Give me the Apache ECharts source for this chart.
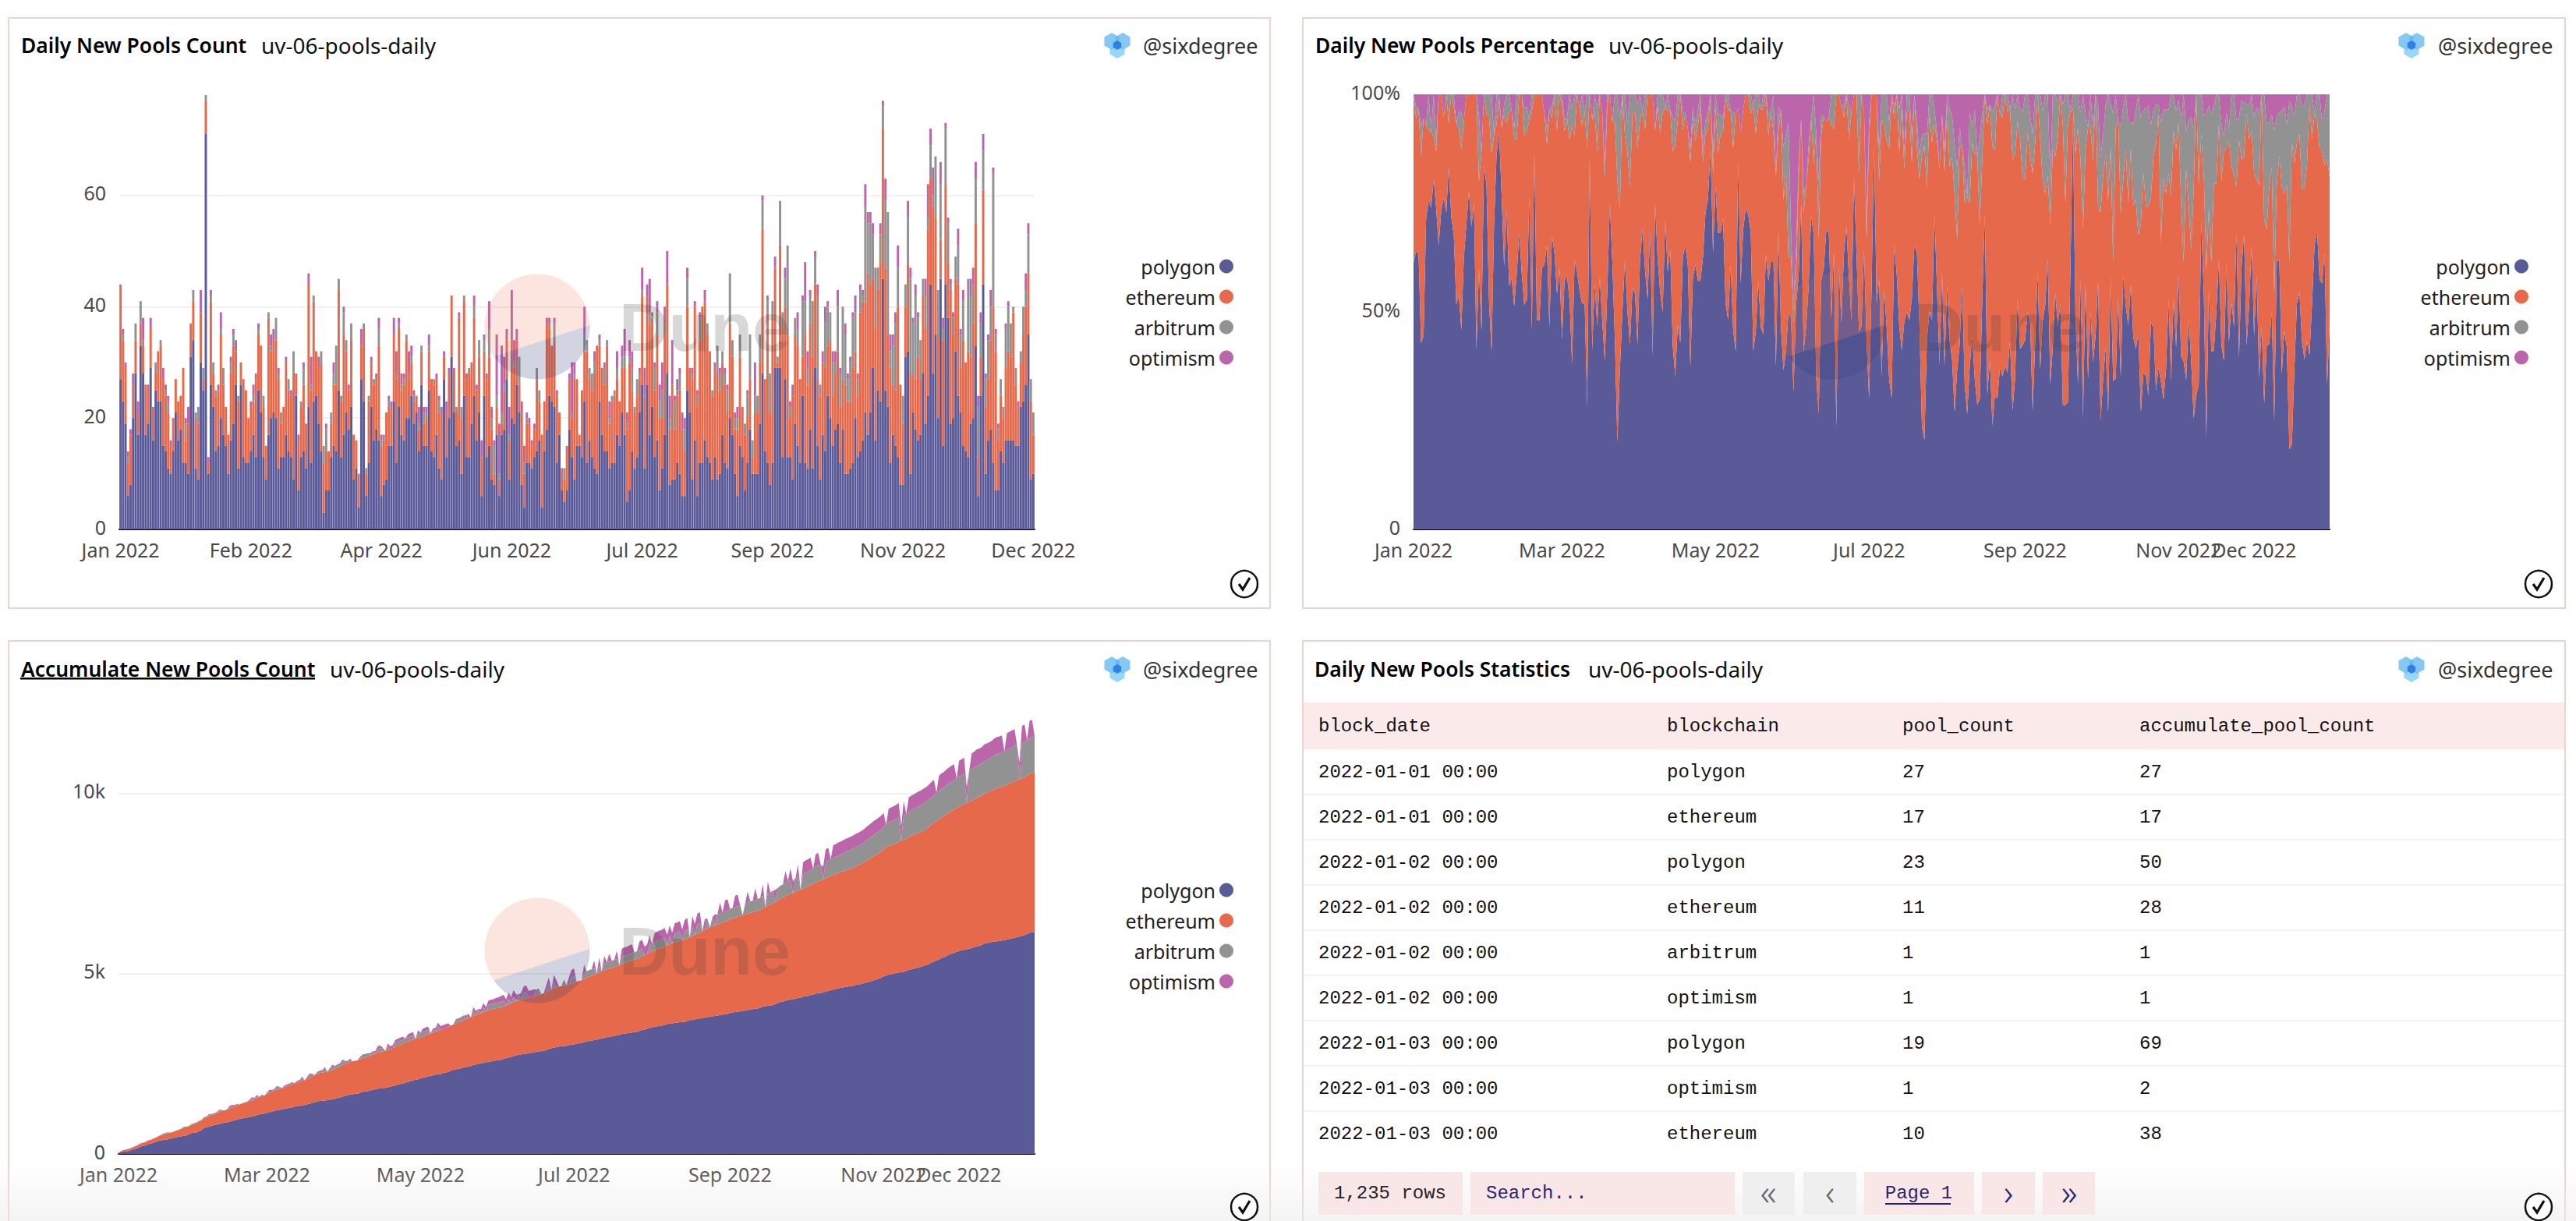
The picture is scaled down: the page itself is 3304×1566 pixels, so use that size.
<!DOCTYPE html>
<html><head><meta charset="utf-8"><style>html,body{margin:0;padding:0;background:#fff}#c{width:3304px;height:1566px}</style>
<script src="https://cdn.jsdelivr.net/npm/echarts@6/dist/echarts.min.js"></script></head>
<body><div id="c"></div>
<script>
const seriesNames=['polygon','ethereum','arbitrum','optimism'];
const seriesColors=['#5a5a99','#e5694a','#929292','#bb66ab'];
const polygon=[27,23,19,6,8,20,28,17,33,28,17,19,29,16,25,23,23,15,14,11,10,14,21,16,18,12,12,10,31,34,11,9,30,25,71,10,26,22,14,15,20,17,15,10,16,19,26,11,26,13,12,12,14,17,13,25,21,13,9,17,20,21,20,11,13,13,17,14,13,9,24,7,13,14,11,22,12,23,24,19,14,3,7,7,13,15,14,25,13,17,21,18,22,9,11,4,27,23,6,12,22,16,18,16,6,8,9,15,15,23,12,22,17,16,20,20,24,19,21,14,26,15,15,25,14,13,17,11,9,27,13,20,31,21,15,16,10,24,13,13,19,24,16,21,6,24,13,15,9,8,17,6,17,18,27,9,20,19,26,21,8,4,12,12,11,13,14,16,4,14,18,24,23,22,12,17,7,5,7,18,13,9,15,15,13,23,12,16,13,11,10,23,17,14,14,11,12,12,17,15,21,17,5,7,14,11,13,21,26,11,26,17,22,13,16,7,11,17,28,8,9,9,12,10,6,6,25,21,9,16,6,12,12,16,13,12,9,13,9,10,17,12,11,20,17,10,6,15,13,7,12,18,10,10,10,19,28,14,12,8,12,29,29,29,13,27,13,13,9,19,15,12,24,12,11,18,11,29,15,9,17,14,24,20,15,18,19,12,18,10,10,11,12,20,13,14,16,21,17,21,29,16,25,23,45,25,22,12,17,15,13,8,8,31,32,10,21,18,16,17,28,19,24,44,28,35,20,45,15,44,38,19,20,32,24,21,15,14,13,19,20,33,6,24,44,10,16,18,12,7,7,14,12,16,16,16,16,15,15,22,23,26,35,9,10];
const ethereum=[17,11,10,6,9,6,6,4,4,5,9,7,7,6,3,9,10,12,10,10,5,6,6,7,6,17,4,9,6,7,9,10,9,2,6,2,15,6,10,10,15,9,7,7,12,14,6,12,4,14,13,8,8,6,14,10,12,9,6,21,12,13,14,16,6,9,13,11,11,19,4,9,9,12,8,22,13,18,8,10,16,9,7,7,6,11,12,18,10,18,11,7,12,8,5,6,6,13,4,11,8,10,9,17,9,8,12,7,7,12,15,14,8,10,14,7,6,4,3,4,6,4,5,7,13,13,10,10,12,4,8,8,11,8,6,22,10,17,14,15,11,14,9,10,7,8,14,16,9,2,5,3,2,7,7,7,14,10,8,5,13,6,7,7,4,5,13,7,13,9,19,12,10,12,12,4,4,4,8,9,7,18,12,2,12,9,20,11,12,17,23,10,12,12,19,8,11,12,10,8,8,12,13,23,11,10,11,6,16,13,16,20,16,12,19,13,9,18,16,10,17,9,12,15,12,8,15,8,18,24,16,22,28,25,22,20,15,16,19,15,13,14,10,17,14,8,12,16,9,10,8,9,3,11,11,11,26,13,27,13,26,18,1,22,23,13,22,7,15,16,18,15,7,23,15,19,20,15,12,15,13,15,9,14,9,10,13,10,9,16,13,12,17,12,11,25,25,20,29,23,16,20,18,25,27,22,13,17,9,10,27,18,11,9,16,18,7,9,15,10,14,17,30,19,30,21,15,7,19,18,10,24,15,13,20,8,19,16,19,12,17,22,7,7,17,12,11,16,28,25,9,10,8,13,16,15,23,11,7,8,12,14,11,14,7];
const arbitrum=[0,1,0,1,0,0,3,0,4,1,0,0,0,0,2,0,1,0,1,2,0,0,0,0,0,0,3,0,0,2,1,3,0,2,1,0,1,2,1,0,1,3,0,0,2,2,0,1,0,0,0,0,0,1,0,1,0,2,0,1,1,0,4,1,2,0,0,2,0,4,0,0,1,3,0,0,1,1,0,0,2,3,4,0,2,2,7,2,1,4,2,0,3,0,0,0,0,1,1,1,0,1,0,3,1,1,0,1,0,0,1,1,1,1,1,1,1,1,0,1,1,2,1,1,0,1,0,2,0,0,0,0,0,0,1,0,2,1,0,1,0,2,0,3,0,2,0,5,2,5,2,1,2,1,0,1,0,1,0,5,0,2,1,0,0,0,2,2,0,0,0,1,0,3,0,0,0,2,0,0,1,1,0,0,0,3,2,2,3,2,0,1,0,3,1,1,1,1,2,0,2,2,1,1,4,1,3,1,1,0,0,2,1,4,4,3,5,2,0,2,0,5,1,3,0,4,5,0,1,0,2,4,0,0,2,0,1,0,5,3,2,2,4,9,3,2,2,4,0,2,4,8,3,3,3,5,5,0,2,7,3,0,1,8,3,5,16,2,0,3,3,0,10,6,3,5,10,5,15,2,0,8,7,5,6,2,8,6,13,9,4,7,9,7,3,4,1,17,9,11,8,11,4,5,4,12,22,3,7,12,7,0,5,4,8,17,9,15,7,7,3,6,2,6,2,11,8,10,2,10,7,1,3,4,7,6,7,0,13,11,7,8,9,6,7,5,7,6,24,3,2,3,2,7,8,6,1,3,0,2,5,3,7,4,4];
const optimism=[0,1,1,1,1,2,0,2,0,4,0,0,2,0,0,0,0,2,1,1,1,0,0,0,0,0,1,3,0,0,0,0,4,0,0,1,1,0,0,1,3,0,0,0,1,1,2,0,0,0,0,0,1,2,1,1,0,0,0,0,2,2,0,1,0,0,1,0,1,0,0,1,0,1,0,2,5,0,0,2,0,0,1,0,0,2,0,0,0,1,0,1,0,0,0,0,3,0,0,0,1,0,1,2,1,0,0,1,1,3,4,1,2,1,0,4,2,1,0,3,0,1,1,2,0,0,1,1,1,1,2,1,0,0,0,1,0,0,1,0,0,2,1,0,3,1,1,5,2,1,11,9,12,5,2,5,9,4,2,0,2,3,1,1,1,1,0,0,0,0,1,1,0,1,1,0,0,0,0,1,9,2,0,0,0,5,0,0,0,2,0,1,0,1,0,3,0,0,3,0,2,5,2,3,3,0,0,1,4,5,2,6,0,1,2,3,5,3,6,4,8,1,2,1,3,2,2,0,1,1,1,1,0,2,0,0,0,1,0,1,0,1,1,0,0,1,2,0,0,0,1,0,0,6,0,0,1,0,1,0,0,2,0,0,0,2,0,1,2,0,3,0,1,7,3,1,0,1,2,0,2,3,1,0,2,2,3,1,0,2,1,1,1,3,1,1,1,4,2,2,2,0,0,2,1,4,0,3,2,2,4,0,0,0,3,2,1,2,1,0,0,3,6,3,5,0,0,4,2,1,1,1,1,0,3,1,2,0,0,3,3,3,2,2,3,1,1,3,1,1,1,0,0,1,1,0,0,0,1,0,0,3,2,0,0];
const lateOptimismGapDays=[283,305,313,325,333,338,352,357,361,364];
const monthTicks=['2022-01-01','2022-03-01','2022-05-01','2022-07-01','2022-09-01','2022-11-01'];
const overlappingMonthTicks=['2022-12-01'];
const monthNames=['Jan','Feb','Mar','Apr','May','Jun','Jul','Aug','Sep','Oct','Nov','Dec'];
const tableHeader=['block_date','blockchain','pool_count','accumulate_pool_count'];
const tableDates=['2022-01-01 00:00','2022-01-01 00:00','2022-01-02 00:00','2022-01-02 00:00','2022-01-02 00:00','2022-01-02 00:00','2022-01-03 00:00','2022-01-03 00:00','2022-01-03 00:00'];
const tableChains=['polygon','ethereum','polygon','ethereum','arbitrum','optimism','polygon','optimism','ethereum'];
const tablePools=[27,17,23,11,1,1,19,1,10];
const tableAccum=[27,17,50,28,1,1,69,2,38];

const days=[];for(let i=0;i<365;i++){days.push(new Date(Date.UTC(2022,0,1+i)).toISOString().slice(0,10));}
const daily=[polygon,ethereum,arbitrum,optimism];
const totals=days.map((_,i)=>daily.reduce((s,a)=>s+a[i],0));
const pct=daily.map(a=>a.map((v,i)=>v/totals[i]*100));
const sums=[0,0,0,0];
const cum=daily.map(()=>[]);
days.forEach((_,i)=>{daily.forEach((a,k)=>{sums[k]+=a[i];
  let absent=a[i]===0;
  if(k===3&&i>=280)absent=lateOptimismGapDays.includes(i);
  cum[k].push(absent?0:sums[k]);});});

const monthLabel=v=>{const p=v.split('-');return monthNames[+p[1]-1]+' '+p[0];};
const FONT='"Noto Sans"',MONO='"Liberation Mono"';
const axisFont={fontFamily:FONT,fontSize:25,color:'#4a4a4a'};
const g=[];
function rect(x,y,w,h,style,z){g.push({type:'rect',shape:{x,y,width:w,height:h},style,z:z||1,silent:true});}
function text(x,y,t,o){g.push({type:'text',x,y,z:o.z||10,silent:true,style:Object.assign({text:t,fontFamily:FONT,fontSize:26,fill:'#111',textVerticalAlign:'middle',textAlign:'left'},o)});}
function poly(points,fill,z){g.push({type:'polygon',shape:{points},style:{fill},z:z||60,silent:true});}
function panel(x,y,w,h){rect(x,y,w,h,{fill:'none',stroke:'#ecd3cb',lineWidth:2},0);}
function arc(cx,cy,r,a0,a1){const p=[];for(let i=0;i<=60;i++){const a=(a0+(a1-a0)*i/60)*Math.PI/180;p.push([cx+r*Math.cos(a),cy+r*Math.sin(a)]);}return p;}
function watermark(px,cy){const cx=px+680;
  poly(arc(cx,cy,67.5,-1.7,-214.4),'rgba(232,110,70,0.18)');
  poly(arc(cx,cy,67.5,-1.7,145.6),'rgba(50,60,120,0.22)');
  text(px+785,cy,'Dune',{fontFamily:'"Liberation Sans"',fontWeight:'bold',fontSize:88,fill:'rgba(60,60,60,0.2)',z:60});}
function hex(cx,cy,r,fill){const p=[];for(let i=0;i<6;i++){const a=(60*i+30)*Math.PI/180;p.push([cx+r*Math.cos(a),cy+r*Math.sin(a)]);}poly(p,fill,11);}
function avatar(cx,cy,tx){
  hex(cx-7,cy-5,11,'rgba(92,182,240,0.75)');hex(cx+7,cy-5,11,'rgba(92,182,240,0.75)');hex(cx,cy+6,11,'rgba(120,200,248,0.75)');
  hex(cx,cy,6,'rgba(30,110,220,0.8)');
  text(tx,cy,'@sixdegree',{fontSize:27,fill:'#333'});}
function check(cx,cy){g.push({type:'circle',shape:{cx,cy,r:17},style:{fill:'#fff',stroke:'#111',lineWidth:2.5},z:80,silent:true});
  g.push({type:'polyline',shape:{points:[[cx-7,cy],[cx-2,cy+7],[cx+7,cy-8]]},style:{fill:'none',stroke:'#111',lineWidth:3.2},z:81,silent:true});}

panel(11,23,1618,757);panel(1671,23,1619,757);panel(11,822,1618,770);panel(1671,822,1619,770);
const titles=[[27,58,'Daily New Pools Count',335],[1687,58,'Daily New Pools Percentage',2063],[27,858,'Accumulate New Pools Count',423],[1686,858,'Daily New Pools Statistics',2037]];
titles.forEach(t=>{text(t[0],t[1],t[2],{fontWeight:600,fontSize:26.4,fill:'#000'});text(t[3],t[1],'uv-06-pools-daily',{fontSize:28,fill:'#111'});});
rect(26,869,378,2.5,{fill:'#000'},10);
avatar(1433,58,1466);avatar(3093,58,3127);avatar(1433,858,1466);avatar(3093,858,3127);
check(1596,749);check(3256,749);check(1596,1548);check(3256,1548);
watermark(9,419);watermark(1670,419);watermark(9,1219);

rect(0,1490,3304,76,{fill:new echarts.graphic.LinearGradient(0,0,0,1,[{offset:0,color:'rgba(235,235,235,0)'},{offset:1,color:'rgba(235,235,235,0.55)'}])},1);
rect(1672,901,1617,60,{fill:'#fbeaea'},2);
const cols=[1691,2138,2440,2744];
tableHeader.forEach((h,i)=>text(cols[i],931,h,{fontFamily:MONO,fontSize:24,fill:'#111'}));
tableDates.forEach((d,r)=>{const y=990+r*58;
  [d,tableChains[r],String(tablePools[r]),String(tableAccum[r])].forEach((v,i)=>text(cols[i],y,v,{fontFamily:MONO,fontSize:24,fill:'#111'}));
  if(r<8)rect(1672,y+28,1617,2,{fill:'#f3f3f3'},2);});
const pager=[[1691,185,'1,235 rows','#f9e7e7','#222',1711,'left'],[1886,339,'Search...','#f9e7e7','#2b1f73',1906,'left'],[2235,67,'«','#efefef','#666',2268,'center'],[2313,68,'‹','#efefef','#666',2347,'center'],[2391,141,'Page 1','#f9e7e7','#2b1f73',2461,'center'],[2542,68,'›','#f9e7e7','#2b1f73',2576,'center'],[2620,67,'»','#f9e7e7','#2b1f73',2654,'center']];
pager.forEach(p=>{rect(p[0],1503,p[1],55,{fill:p[3]},2);
  const big=p[2].length===1;
  text(p[5],big?1528:1530,p[2],{fontFamily:big?FONT:MONO,fontSize:big?46:24,fontWeight:big?300:400,fill:p[4],textAlign:p[6]});});
rect(2418,1543,84,2,{fill:'#2b1f73'},10);

const grids=[{left:153,top:122,width:1174,height:557},{left:1813,top:121,width:1175,height:558},{left:152,top:922,width:1175,height:558}];
const xBase=(gi,extra)=>Object.assign({type:'category',gridIndex:gi,data:days,position:'bottom',axisTick:{show:false},axisLine:{lineStyle:{color:'#000',width:2}},splitLine:{show:false}},extra);
const yBase=(gi,extra,fmt,showMax)=>Object.assign({type:'value',gridIndex:gi,min:0,axisLine:{show:false},axisTick:{show:false},splitLine:{lineStyle:{color:'#f1f1f1',width:2},showMaxLine:false},axisLabel:Object.assign({},axisFont,{margin:17,verticalAlign:'bottom',lineHeight:7,showMaxLabel:!!showMax,formatter:fmt})},extra);
const timeLabel=ticks=>({...axisFont,margin:13,interval:(i,v)=>ticks.includes(v),formatter:monthLabel,hideOverlap:false});
const series=[];
seriesNames.forEach((n,k)=>{series.push({name:n,type:'bar',xAxisIndex:0,yAxisIndex:0,stack:'daily',barWidth:'91%',data:daily[k],itemStyle:{color:seriesColors[k]},large:false,progressive:0,silent:true});});
[[1,pct],[2,cum]].forEach(([ax,src])=>{seriesNames.forEach((n,k)=>{series.push({name:n,type:'line',xAxisIndex:ax,yAxisIndex:ax,stack:'s'+ax,data:src[k],showSymbol:false,symbol:'none',lineStyle:{width:0},areaStyle:{color:seriesColors[k],opacity:1},itemStyle:{color:seriesColors[k]},silent:true,sampling:false});});});
const legend=(right,top)=>({data:seriesNames,orient:'vertical',align:'right',right,top,icon:'circle',itemWidth:18,itemHeight:18,itemGap:14,selectedMode:false,textStyle:{fontFamily:FONT,fontSize:25,color:'#222'}});
const chart=echarts.init(document.getElementById('c'),null,{renderer:'svg',width:3304,height:1566});
chart.setOption({animation:false,backgroundColor:'#fff',grid:grids,
 xAxis:[xBase(0,{axisLabel:{...axisFont,margin:13,interval:51,formatter:monthLabel}}),
  xBase(1,{boundaryGap:false,axisLabel:timeLabel(monthTicks)}),
  xBase(2,{boundaryGap:false,axisLabel:timeLabel(monthTicks)}),
  xBase(1,{boundaryGap:false,axisLine:{show:false},axisLabel:timeLabel(overlappingMonthTicks)}),
  xBase(2,{boundaryGap:false,axisLine:{show:false},axisLabel:timeLabel(overlappingMonthTicks)})],
 yAxis:[yBase(0,{max:78,interval:20},v=>String(v)),yBase(1,{max:100,interval:50},v=>v===0?'0':v+'%',true),yBase(2,{max:12060,interval:5000},v=>v===0?'0':(v/1000)+'k')],
 legend:[legend(1717,324),legend(56,324),legend(1717,1124)],
 graphic:{elements:g},series});
</script></body></html>
